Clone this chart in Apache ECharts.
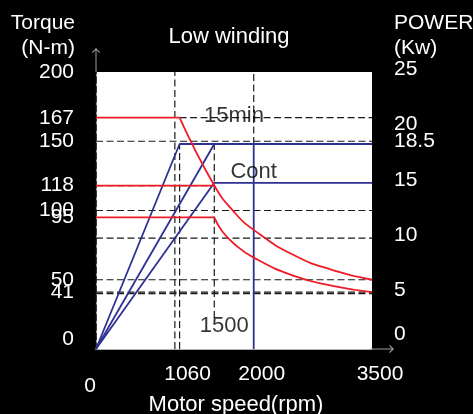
<!DOCTYPE html>
<html><head><meta charset="utf-8">
<script src="https://cdn.jsdelivr.net/npm/echarts@6/dist/echarts.min.js"></script>
<style>html,body{margin:0;padding:0;background:#000;}#c{width:473px;height:414px;}</style>
</head><body><div id="c"></div>
<script>
// ---- tick labels ----
const speedTicks = [0, 1060, 2000, 3500];
const torqueTicks = [0, 41, 50, 95, 100, 118, 150, 167, 200];
const powerTicks = [0, 5, 10, 15, 18.5, 20, 25];

// ---- torque curves (N-m vs rpm) ----
const torque15minFlatSpeed = [0, 1060];
const torque15minFlatValue = [167, 167];
const torque15minCurveSpeed = [1060, 1500, 1750, 2000, 2500, 3000, 3500];
const torque15minCurveValue = [167, 118, 99, 86, 68, 57, 50];
const torqueSSpeed = [0, 1500];
const torqueSValue = [118, 118];
const torqueContFlatSpeed = [0, 1500];
const torqueContFlatValue = [95, 95];
const torqueContCurveSpeed = [1500, 1600, 1750, 2000, 2500, 3000, 3500];
const torqueContCurveValue = [95, 85, 76, 66, 53, 45.5, 41];

// ---- power curves (kW vs rpm) ----
const power15minSpeed = [0, 1060, 3500];
const power15minValue = [0, 18.5, 18.5];
const powerSSpeed = [0, 1500];
const powerSValue = [0, 18.5];
const powerContSpeed = [0, 1500, 3500];
const powerContValue = [0, 15, 15];
const maxSpeedSpeed = [2000, 2000];
const maxSpeedPower = [18.5, 0];

// ---- dashed guide lines ----
const guideTorqueLevels = [150, 100, 50, 41];
const guidePowerLevels = [10, 5];
const guide15minSpeed = [1060, 3500];
const guide15minTorque = [167, 167];
const guideSTorqueSpeed = [0, 1500];
const guideSTorque = [118, 118];
const guide1000Speed = [1000, 1000];
const guide1000Torque = [0, 200];
const guide1060Speed = [1060, 1060];
const guide1060Power = [0, 18.5];
const guide1500Speed = [1500, 1500];
const guide1500Power = [2.8, 18.5];
const guide2000Speed = [2000, 2000];
const guide2000Power = [18.5, 25];

// ---- annotations ----
const noteNamesT = ['15min', '1500'];
const noteSpeedT = [1750, 1500];
const noteTorqueT = [167, 17];
const noteNamesP = ['Cont'];
const noteSpeedP = [2000];
const notePowerP = [16];

const FONT = '"Liberation Sans", Arial, Helvetica, sans-serif';
const RED = '#ee1c25', BLUE = '#2e3192', DASH = '#1a1a1a';
const zip = (xs, ys) => xs.map((x, i) => [x, ys[i]]);
const arrowPath = 'path://M4,0 L8,4.2 L7.3,4.9 L4,1.6 L0.7,4.9 L0,4.2 Z M3.5,1.2 L4.5,1.2 L4.5,24 L3.5,24 Z';

function lineSeries(xs, ys, color, yIdx, dashed, z, smooth) {
  return {
    type: 'line', xAxisIndex: 0, yAxisIndex: yIdx, data: zip(xs, ys),
    showSymbol: false, symbol: 'none', silent: true, z: z,
    smooth: smooth ? 0.5 : false,
    lineStyle: dashed ? { color: DASH, width: 1.2, type: [7, 3.5] } : { color: color, width: 1.8 }
  };
}

const series = [];
guideTorqueLevels.forEach(v => series.push(lineSeries([0, 3500], [v, v], DASH, 0, true, 1)));
guidePowerLevels.forEach(v => series.push(lineSeries([0, 3500], [v, v], DASH, 1, true, 1)));
series.push(lineSeries(guide15minSpeed, guide15minTorque, DASH, 0, true, 1));
series.push(lineSeries(guideSTorqueSpeed, guideSTorque, DASH, 0, true, 1));
series.push(lineSeries(guide1000Speed, guide1000Torque, DASH, 0, true, 1));
series.push(lineSeries(guide1060Speed, guide1060Power, DASH, 1, true, 1));
series.push(lineSeries(guide1500Speed, guide1500Power, DASH, 1, true, 1));
series.push(lineSeries(guide2000Speed, guide2000Power, DASH, 1, true, 1));

series.push(lineSeries(power15minSpeed, power15minValue, BLUE, 1, false, 3));
series.push(lineSeries(powerSSpeed, powerSValue, BLUE, 1, false, 3));
series.push(lineSeries(powerContSpeed, powerContValue, BLUE, 1, false, 3));
series.push(lineSeries(maxSpeedSpeed, maxSpeedPower, BLUE, 1, false, 3));

series.push(lineSeries(torque15minFlatSpeed, torque15minFlatValue, RED, 0, false, 4));
series.push(lineSeries(torque15minCurveSpeed, torque15minCurveValue, RED, 0, false, 4, true));
series.push(lineSeries(torqueSSpeed, torqueSValue, RED, 0, false, 4));
series.push(lineSeries(torqueContFlatSpeed, torqueContFlatValue, RED, 0, false, 4));
series.push(lineSeries(torqueContCurveSpeed, torqueContCurveValue, RED, 0, false, 4, true));

const noteLabel = { show: true, position: 'inside', formatter: '{b}', color: '#000', fontSize: 22, fontFamily: FONT };
series.push({
  type: 'scatter', xAxisIndex: 0, yAxisIndex: 0, symbolSize: 1, silent: true, z: 5,
  itemStyle: { color: 'rgba(0,0,0,0)' }, label: noteLabel,
  data: noteNamesT.map((n, i) => ({ name: n, value: [noteSpeedT[i], noteTorqueT[i]],
    label: { offset: n === '1500' ? [10, 0] : [0, -2] } }))
});
series.push({
  type: 'scatter', xAxisIndex: 0, yAxisIndex: 1, symbolSize: 1, silent: true, z: 5,
  itemStyle: { color: 'rgba(0,0,0,0)' }, label: noteLabel,
  data: noteNamesP.map((n, i) => ({ name: n, value: [noteSpeedP[i], notePowerP[i]] }))
});

const txt = (text, x, y, align, size) => ({
  type: 'text', x: x, y: y, silent: true,
  style: { text: text, fill: '#fff', font: size + 'px ' + FONT, align: align, verticalAlign: 'middle' }
});

const chart = echarts.init(document.getElementById('c'), null, { renderer: 'canvas' });
chart.setOption({
  animation: false,
  backgroundColor: '#000',
  grid: { left: 96, right: 101, top: 72, bottom: 65, show: true, backgroundColor: '#fff', borderWidth: 0 },
  graphic: [
    txt('Torque', 75, 23, 'right', 21),
    txt('(N-m)', 75, 48, 'right', 21),
    txt('Low winding', 229, 37, 'center', 22),
    txt('POWER', 394, 23, 'left', 21),
    txt('(Kw)', 394, 48, 'left', 21),
    txt('Motor speed(rpm)', 236, 405, 'center', 22)
  ],
  xAxis: [{
    type: 'value', position: 'bottom', min: 0, max: 3500,
    axisLine: { show: true, lineStyle: { color: '#a0a0a0', width: 1 }, symbol: ['none', arrowPath], symbolSize: [8, 24], symbolOffset: [0, 10] },
    axisTick: { show: false }, splitLine: { show: false },
    axisLabel: {
      customValues: speedTicks, margin: 15, color: '#fff', fontSize: 21, fontFamily: FONT,
      formatter: v => v === 0 ? '{z|0}' : '{a|' + v + '}',
      rich: {
        z: { color: '#fff', fontSize: 21, fontFamily: FONT, padding: [12, 12, 0, 0] },
        a: { color: '#fff', fontSize: 21, fontFamily: FONT, padding: [0, 0, 0, 16] }
      }
    }
  }, {
    type: 'value', position: 'top', min: 0, max: 3500,
    axisLine: { show: true, lineStyle: { color: '#b0b0b0', width: 1, type: 'dotted' } },
    axisTick: { show: false }, axisLabel: { show: false }, splitLine: { show: false }
  }],
  yAxis: [{
    type: 'value', position: 'left', min: 0, max: 200,
    axisLine: { show: true, lineStyle: { color: '#a0a0a0', width: 1 }, symbol: ['none', arrowPath], symbolSize: [8, 24], symbolOffset: [0, 12] },
    axisTick: { show: false }, splitLine: { show: false },
    axisLabel: {
      customValues: torqueTicks, margin: 22, color: '#fff', fontSize: 21, fontFamily: FONT,
      formatter: v => v === 0 ? '{z|0}' : String(v),
      rich: { z: { color: '#fff', fontSize: 21, fontFamily: FONT, padding: [0, 0, 20, 0] } }
    }
  }, {
    type: 'value', position: 'right', min: 0, max: 25,
    axisLine: { show: true, lineStyle: { color: '#111', width: 1.5, type: [6, 3.5] } },
    axisTick: { show: false }, splitLine: { show: false },
    axisLabel: {
      customValues: powerTicks, margin: 22, color: '#fff', fontSize: 21, fontFamily: FONT,
      formatter: v => v === 0 ? '{z|0}' : '{a|' + v + '}',
      rich: {
        z: { color: '#fff', fontSize: 21, fontFamily: FONT, padding: [0, 0, 30, 0] },
        a: { color: '#fff', fontSize: 21, fontFamily: FONT, padding: [0, 0, 6, 0] }
      }
    }
  }],
  series: series
});
</script></body></html>
